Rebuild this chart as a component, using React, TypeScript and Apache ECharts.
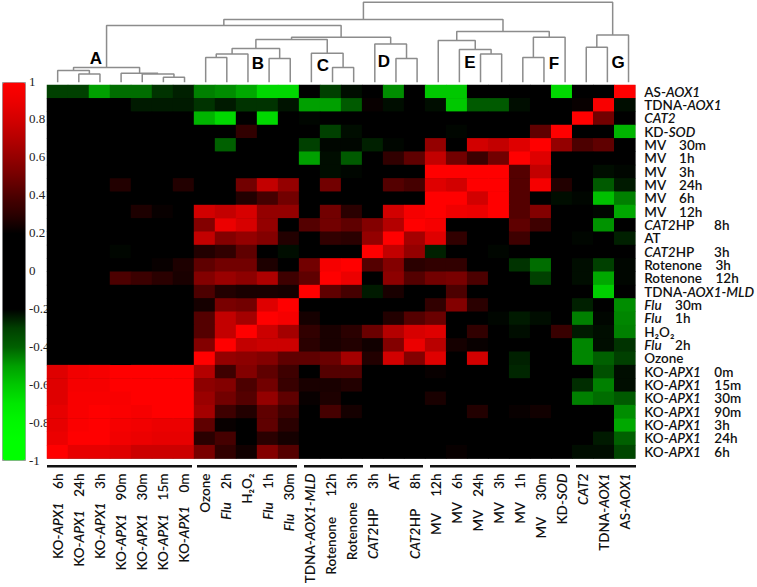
import React, { useEffect, useRef } from "react";
import * as echarts from "echarts";

const columnNames = [
  "KO-APX1    6h", "KO-APX1    24h", "KO-APX1    3h", "KO-APX1    90m", "KO-APX1    30m", "KO-APX1    15m", "KO-APX1    0m",
  "Ozone", "Flu    2h", "H₂O₂", "Flu    1h", "Flu    30m", "TDNA-AOX1-MLD", "Rotenone      12h",
  "Rotenone    3h", "CAT2HP      3h", "AT", "CAT2HP      8h", "MV     12h", "MV    6h", "MV    24h",
  "MV    3h", "MV    1h", "MV     30m", "KD-SOD", "CAT2", "TDNA-AOX1", "AS-AOX1",
];
const rowNames = [
  "AS-AOX1", "TDNA-AOX1", "CAT2", "KD-SOD", "MV    30m", "MV    1h", "MV    3h", "MV    24h", "MV    6h", "MV    12h",
  "CAT2HP      8h", "AT", "CAT2HP      3h", "Rotenone    3h", "Rotenone    12h", "TDNA-AOX1-MLD", "Flu    30m", "Flu    1h",
  "H₂O₂", "Flu    2h", "Ozone", "KO-APX1    0m", "KO-APX1    15m", "KO-APX1    30m", "KO-APX1    90m", "KO-APX1    3h",
  "KO-APX1    24h", "KO-APX1    6h",
];
const colorbarStops = [
  "#00ff00", "#00ff00", "#00f800", "#00e800", "#00c800", "#00a000", "#006000", "#004000", "#000000",
  "#000000", "#000000", "#000000", "#000000", "#2a0000", "#4c0000", "#720000", "#940000", "#b40000", "#d20000", "#ec0000", "#ff0000",
];

const matrix = [
  [-.3, -.3, -.5, -.42, -.42, -.28, -.25, -.45, -.47, -.52, -.65, -.65, 0, -.3, -.22, 0, -.47, 0, -.6, -.6, 0, 0, 0, 0, -.65, 0, 0, 1],
  [0, 0, 0, 0, -.24, -.24, -.24, -.28, -.24, -.28, -.28, -.23, -.5, -.5, -.38, .22, -.22, 0, -.22, -.6, -.38, -.38, -.22, 0, 0, .22, .97, -.22],
  [0, 0, 0, 0, 0, 0, 0, -.55, -.65, 0, -.65, 0, -.21, 0, 0, 0, 0, 0, 0, 0, 0, 0, 0, 0, 0, 1, .5, 0],
  [0, 0, 0, 0, 0, 0, 0, 0, 0, .32, 0, 0, 0, -.3, -.22, 0, 0, 0, 0, -.21, 0, 0, 0, .45, 1, 0, 0, -.55],
  [0, 0, 0, 0, 0, 0, 0, 0, -.4, 0, 0, 0, -.3, -.21, -.21, -.25, -.21, 0, .6, 0, .8, .75, .85, 1, .6, .4, .45, 0],
  [0, 0, 0, 0, 0, 0, 0, 0, 0, 0, 0, 0, -.5, -.22, -.38, 0, .32, .45, .75, .5, .35, .5, 1, .85, 0, 0, 0, 0],
  [0, 0, 0, 0, 0, 0, 0, 0, 0, 0, 0, 0, 0, -.22, -.21, 0, 0, 0, 1, 1, 1, 1, .42, .75, 0, 0, -.22, -.21],
  [0, 0, 0, .28, 0, 0, .28, 0, 0, .5, .75, .6, 0, .5, 0, 0, .42, .38, .85, .8, 1, 1, .42, .95, .28, 0, -.38, -.24],
  [0, 0, 0, 0, 0, 0, 0, 0, 0, .28, .38, .5, 0, 0, 0, 0, 0, 0, 1, 1, .8, 1, .42, 0, -.22, -.21, -.58, -.45],
  [0, 0, 0, 0, .27, .22, 0, .8, .75, .82, .6, .6, 0, .5, .3, -.2, .8, .95, 1, .92, .9, 1, .42, .55, 0, 0, -.21, -.52],
  [0, 0, 0, 0, 0, 0, 0, .55, .9, .82, .6, 0, .42, .5, .45, .55, .7, 1, .95, 0, 0, 0, .45, .36, 0, 0, -.48, 0],
  [0, 0, 0, 0, 0, 0, 0, .75, .55, .6, .55, .28, 0, .32, .3, .6, 1, .65, .85, .32, 0, 0, .36, 0, 0, -.21, 0, -.25],
  [0, 0, 0, -.21, 0, 0, 0, .28, .32, .45, 0, -.22, 0, 0, 0, 1, .75, .6, -.25, 0, 0, -.21, 0, 0, 0, 0, 0, 0],
  [0, 0, 0, 0, 0, .22, .27, .45, .5, .5, .27, 0, .5, .95, 1, .42, .55, .3, .32, .32, 0, 0, -.28, -.42, 0, -.22, -.3, -.21],
  [0, 0, 0, .4, .35, .3, .26, .55, .62, .58, .68, .36, .45, 1, .9, 0, .58, .42, .5, .52, .4, 0, 0, -.3, 0, -.22, -.52, -.21],
  [0, 0, 0, 0, 0, 0, 0, .4, .28, .26, .26, .25, 1, .45, .38, -.24, .26, 0, 0, .4, 0, 0, 0, 0, 0, 0, -.62, 0],
  [0, 0, 0, 0, 0, 0, 0, .25, .52, .5, .85, 1, 0, 0, 0, 0, 0, 0, .32, .55, .3, 0, 0, 0, 0, -.25, 0, -.47],
  [0, 0, 0, 0, 0, 0, 0, .42, .75, .65, 1, .95, .25, 0, 0, 0, .28, .42, .48, 0, 0, -.21, -.24, -.22, 0, -.45, -.21, -.46],
  [0, 0, 0, 0, 0, 0, 0, .42, .75, 1, .78, .65, .32, .26, .3, .48, .7, .82, .85, 0, .32, 0, -.22, 0, .34, -.24, -.22, -.45],
  [0, 0, 0, 0, 0, 0, 0, .55, 1, .75, .78, .78, .3, .26, .28, .24, .55, .9, .72, .25, .22, 0, 0, 0, 0, -.46, -.22, -.28],
  [0, 0, 0, 0, 0, 0, 0, 1, .6, .58, .55, .45, .45, .48, .65, .28, .8, .55, .85, 0, .8, 0, -.25, 0, 0, -.46, -.4, -.3],
  [.85, .93, .95, 1, 1, 1, 1, .7, .36, .55, .45, .36, 0, .42, .42, 0, 0, 0, .22, 0, 0, 0, -.26, 0, 0, 0, -.35, -.22],
  [.85, .95, .95, 1, 1, 1, 1, .58, .55, .4, .5, .34, .26, .26, .28, 0, 0, 0, 0, 0, 0, 0, 0, 0, 0, -.27, -.45, -.22],
  [.85, .97, .97, .97, 1, 1, 1, .62, .5, .42, .6, .45, .22, .27, 0, 0, 0, 0, .26, 0, 0, 0, -.2, 0, 0, -.45, -.42, -.38],
  [.88, .97, 1, .98, .96, 1, 1, .65, .36, .28, .45, .36, 0, .38, .25, 0, 0, 0, 0, 0, .28, 0, .22, .24, 0, -.2, -.2, -.47],
  [.88, .98, 1, .95, .93, .9, .9, .45, .22, 0, .45, .3, 0, 0, 0, 0, 0, 0, 0, 0, 0, 0, -.2, 0, 0, 0, 0, -.52],
  [.9, 1, 1, .93, .9, .88, .88, .3, .38, 0, .3, .25, 0, 0, 0, 0, 0, 0, 0, 0, 0, 0, 0, 0, 0, 0, -.24, -.4],
  [1, .88, .88, .85, .78, .78, .78, .52, .32, .24, .55, .42, 0, 0, 0, 0, 0, 0, 0, .22, 0, 0, 0, 0, 0, -.22, -.22, -.32],
];

// Dendrogram: [height of the join, left child, right child]; a number is a leaf (column index).
type Tree = number | [number, Tree, Tree];
const clusterA: Tree = [14.7, [11.7, 0, [8.3, 1, 2]], [9, 3, [8.3, 4, [5, 5, 6]]]];
const clusterB: Tree = [33.7, [28.3, [24.7, 7, 8], 9], [23.7, 10, 11]];
const clusterC: Tree = [29, 12, [14.7, 13, 14]];
const clusterD: Tree = [38.3, 15, [23.7, 16, 17]];
const clusterE: Tree = [41.7, 18, [32.7, 19, [28.3, 20, 21]]];
const clusterF: Tree = [45, [24.7, 22, 23], 24];
const clusterG: Tree = [47.3, [35, 25, 26], 27];
const dendrogram: Tree = [
  80,
  [62.7, [56.7, clusterA, [45, [42.7, clusterB, clusterC], clusterD]], [50.7, clusterE, clusterF]],
  clusterG,
];
const clusterLetters = [
  ["A", 96, 58], ["B", 258, 63], ["C", 323, 65], ["D", 384, 61], ["E", 470, 62], ["F", 554, 63], ["G", 618, 62],
] as [string, number, number][];
const groupBars = [[47, 192], [197, 297], [304, 363], [370, 423], [430, 570], [576, 636]];

const font = "Lato";
const richLabel = (v: string) => v.replace(/(AOX1-MLD|AOX1|APX1|SOD|CAT2|Flu)/g, "{i|$1}");
const labelStyle = (size: number) => ({
  fontFamily: font,
  fontSize: size,
  fontWeight: 600 as any,
  color: "#111",
  lineHeight: 12,
  formatter: richLabel,
  rich: { i: { fontFamily: font, fontSize: size, fontStyle: "italic" as any, fontWeight: 600 as any, color: "#111", lineHeight: 12 } },
});

function treeSegments(t: Tree, out: ([number, number] | null)[]): [number, number] {
  if (typeof t === "number") return [t, 0];
  const [h, l, r] = t;
  const a = treeSegments(l, out);
  const b = treeSegments(r, out);
  out.push([a[0], a[1]], [a[0], h], [b[0], h], [b[0], b[1]], null);
  return [(a[0] + b[0]) / 2, h];
}

export default function App() {
  const ref = useRef<HTMLDivElement>(null);
  useEffect(() => {
    document.body.style.margin = "0";
    const chart = echarts.init(ref.current!, undefined, { renderer: "svg" });
    const cells: [number, number, number][] = [];
    matrix.forEach((row, r) => row.forEach((v, c) => cells.push([c, r, v])));
    const segs: ([number, number] | null)[] = [];
    treeSegments(dendrogram, segs);
    chart.setOption({
      animation: false,
      backgroundColor: "#fff",
      grid: [
        { left: 47, top: 85, width: 589, height: 373.5, show: true, backgroundColor: "#000", borderWidth: 0 },
        { left: 25, top: 81, width: 1, height: 379 },
        { left: 47.1, top: 0, width: 592, height: 82.3 },
      ],
      xAxis: [
        {
          type: "category", gridIndex: 0, data: columnNames, position: "bottom",
          axisLine: { show: false }, axisTick: { show: false }, splitLine: { show: false },
          axisLabel: { ...labelStyle(13.5), interval: 0, rotate: 90, margin: 15 },
        },
        { type: "value", gridIndex: 1, show: false, min: 0, max: 1 },
        { type: "value", gridIndex: 2, show: false, min: -0.5, max: 27.5 },
      ],
      yAxis: [
        {
          type: "category", gridIndex: 0, data: rowNames, inverse: true, position: "right",
          axisLine: { show: false }, axisTick: { show: false }, splitLine: { show: false },
          axisLabel: { ...labelStyle(13.5), interval: 0, margin: 9 },
        },
        {
          type: "value", gridIndex: 1, min: -1, max: 1, interval: 0.2, position: "right",
          axisLine: { show: false }, axisTick: { show: false }, splitLine: { show: false },
          axisLabel: { fontFamily: "Liberation Sans Narrow", fontSize: 13, color: "#222", margin: 3 },
        },
        { type: "value", gridIndex: 2, show: false, min: 0, max: 82.3 },
      ],
      visualMap: {
        type: "continuous", min: -1, max: 1, seriesIndex: 0, calculable: false, hoverLink: false,
        left: 2, top: 82, itemWidth: 23, itemHeight: 378, padding: 0, text: ["", ""],
        borderColor: "#999", borderWidth: 1,
        inRange: { color: colorbarStops },
      },
      series: [
        {
          type: "heatmap", xAxisIndex: 0, yAxisIndex: 0, data: cells, silent: true,
          itemStyle: { borderWidth: 0 }, emphasis: { disabled: true },
        },
        {
          type: "line", xAxisIndex: 2, yAxisIndex: 2, data: segs, showSymbol: false, symbol: "none", silent: true,
          connectNulls: false, lineStyle: { color: "#8c8c8c", width: 1.5 },
        },
      ],
      graphic: [
        ...clusterLetters.map(([t, x, y]) => ({
          type: "text", x, y,
          style: { text: t, fontFamily: "Liberation Sans", fontWeight: "bold", fontSize: 17, fill: "#000", align: "center", verticalAlign: "middle" },
        })),
        ...groupBars.map(([a, b]) => ({ type: "rect", shape: { x: a, y: 465, width: b - a, height: 2.5 }, style: { fill: "#111" } })),
      ],
    });
    return () => chart.dispose();
  }, []);
  return <div ref={ref} style={{ width: 757, height: 587 }} />;
}
